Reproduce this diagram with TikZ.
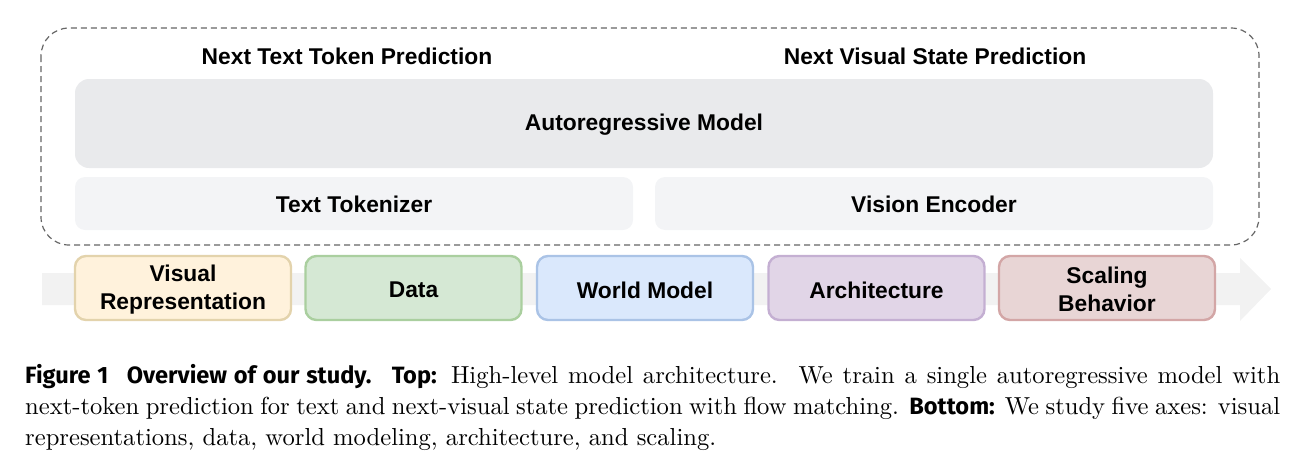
\documentclass[tikz,border=0pt]{standalone}
\usepackage{fontspec}
\setmainfont{lmroman10-regular.otf}
\newfontfamily\diafont{Liberation Sans}
\newfontfamily\capsans{Fira Sans}
\definecolor{dashgray}{HTML}{666666}
\definecolor{armfill}{HTML}{E9EAEC}
\definecolor{encfill}{HTML}{F3F4F6}
\definecolor{arrowfill}{HTML}{F2F2F2}
\definecolor{yfill}{HTML}{FFF2DC}\definecolor{ydraw}{HTML}{E3D3AC}
\definecolor{gfill}{HTML}{D5E8D4}\definecolor{gdraw}{HTML}{AACF9F}
\definecolor{bfill}{HTML}{DAE8FC}\definecolor{bdraw}{HTML}{AAC3E6}
\definecolor{pfill}{HTML}{E1D5E7}\definecolor{pdraw}{HTML}{C4AFD2}
\definecolor{rfill}{HTML}{E8D5D5}\definecolor{rdraw}{HTML}{D3A6A6}
\tikzset{
  diatext/.style={font=\diafont\bfseries\fontsize{22.8}{28}\selectfont, text=black, align=center, inner sep=0pt},
  graybox/.style={rounded corners=14pt, inner sep=0pt},
  axisbox/.style={rounded corners=11pt, line width=2.4pt, inner sep=0pt,
     minimum width=216pt, minimum height=64pt},
  captext/.style={font=\fontsize{24.6}{30}\selectfont, anchor=base west, inner sep=0pt},
}
\newcommand{\capb}[1]{{\capsans\bfseries\fontsize{23.6}{30}\selectfont #1}}
\begin{document}
\begin{tikzpicture}[x=1pt,y=-1pt]
\useasboundingbox (0,0) rectangle (1309,466);
% dashed frame
\draw[dashgray, line width=1.2pt, dash pattern=on 6pt off 4pt, rounded corners=28pt]
  (41,28) rectangle (1259,245);
\node[diatext] (ntt) at (347,56) {Next Text Token Prediction};
\node[diatext] (nvs) at (935,56) {Next Visual State Prediction};
\node[graybox, fill=armfill, minimum width=1138pt, minimum height=89pt] (arm) at (644,123.5) {};
\node[diatext] (armt) at (644,125) {Autoregressive Model};
\node[graybox, fill=encfill, rounded corners=10pt, minimum width=558pt, minimum height=53pt] (tok) at (354,203.5) {};
\node[diatext] (tokt) at (354,204.5) {Text Tokenizer};
\node[graybox, fill=encfill, rounded corners=10pt, minimum width=558pt, minimum height=53pt] (venc) at (934,203.5) {};
\node[diatext] (venct) at (934,204.5) {Vision Encoder};
% big background arrow
\fill[arrowfill] (42,273) -- (1240,273) -- (1240,258) -- (1271,289) -- (1240,321) -- (1240,305) -- (42,305) -- cycle;
% axes
\node[axisbox, fill=yfill, draw=ydraw] (vr) at (183,288) {};
\node[diatext] (vrt) at (183,289.5) {Visual\\Representation};
\node[axisbox, fill=gfill, draw=gdraw] (data) at (413.5,288) {};
\node[diatext] (datat) at (413.5,290) {Data};
\node[axisbox, fill=bfill, draw=bdraw] (wm) at (645,288) {};
\node[diatext] (wmt) at (645,290) {World Model};
\node[axisbox, fill=pfill, draw=pdraw] (arch) at (876.5,288) {};
\node[diatext] (archt) at (876.5,290) {Architecture};
\node[axisbox, fill=rfill, draw=rdraw] (sb) at (1107,288) {};
\node[diatext] (sbt) at (1107,289.5) {Scaling\\Behavior};
% caption
\node[captext] (cap1) at (25,383) {\makebox[1255pt][s]{\capb{Figure 1\hspace{0.5em} Overview of our study.\hspace{0.4em} Top:} High-level model architecture.\hspace{0.2em} We train a single autoregressive model with}};
\node[captext] (cap2) at (25,414) {\makebox[1255pt][s]{next-token prediction for text and next-visual state prediction with flow matching. \capb{Bottom:} We study five axes: visual}};
\node[captext] (cap3) at (25,445) {representations, data, world modeling, architecture, and scaling.};
\end{tikzpicture}
\end{document}
